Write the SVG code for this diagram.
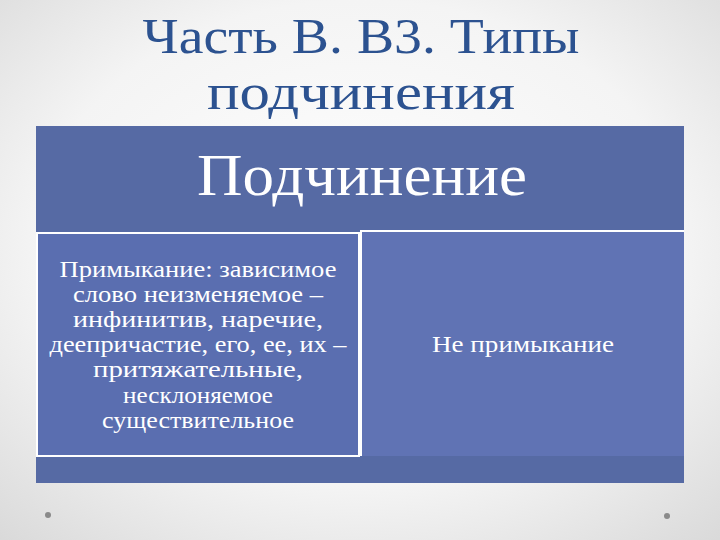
<svg xmlns="http://www.w3.org/2000/svg" width="720" height="540" viewBox="0 0 720 540">
<style>
.title{font-family:"Liberation Serif","DejaVu Serif",serif;font-size:50px;fill:#2c5290;text-anchor:middle}
.head{font-family:"Liberation Serif","DejaVu Serif",serif;font-size:60px;fill:#ffffff;text-anchor:middle}
.body{font-family:"Liberation Serif","DejaVu Serif",serif;font-size:23px;fill:#ffffff;text-anchor:middle}
.box{stroke:#ffffff;stroke-width:2}
</style>
<defs>
<radialGradient id="bg" cx="50%" cy="45%" r="75%">
<stop offset="0" stop-color="#ffffff"/>
<stop offset="0.6" stop-color="#f4f4f4"/>
<stop offset="1" stop-color="#d9d9d9"/>
</radialGradient>
</defs>
<rect x="0" y="0" width="720" height="540" fill="url(#bg)"/>
<g id="title">
<text class="title" x="361" y="53" textLength="437" lengthAdjust="spacingAndGlyphs">Часть В. В3. Типы</text>
<text class="title" x="361" y="109" textLength="308" lengthAdjust="spacingAndGlyphs">подчинения</text>
</g>
<g id="frame">
<rect x="36" y="126" width="648" height="357" fill="#566aa4"/>
</g>
<g id="header">
<text class="head" x="362" y="195" textLength="330" lengthAdjust="spacingAndGlyphs">Подчинение</text>
</g>
<g id="left">
<rect class="box" x="37" y="233" width="322" height="223" fill="#5a6eb0"/>
<text class="body" x="198" y="277" textLength="277" lengthAdjust="spacingAndGlyphs">Примыкание: зависимое</text>
<text class="body" x="198" y="302" textLength="250" lengthAdjust="spacingAndGlyphs">слово неизменяемое –</text>
<text class="body" x="198" y="327" textLength="250" lengthAdjust="spacingAndGlyphs">инфинитив, наречие,</text>
<text class="body" x="198" y="352" textLength="297" lengthAdjust="spacingAndGlyphs">деепричастие, его, ее, их –</text>
<text class="body" x="198" y="377" textLength="210" lengthAdjust="spacingAndGlyphs">притяжательные,</text>
<text class="body" x="198" y="403" textLength="150" lengthAdjust="spacingAndGlyphs">несклоняемое</text>
<text class="body" x="198" y="428" textLength="192" lengthAdjust="spacingAndGlyphs">существительное</text>
</g>
<g id="right">
<rect x="360" y="230" width="324" height="226" fill="#6073b4"/>
<path d="M361 456 V231 H684" fill="none" stroke="#ffffff" stroke-width="2"/>
<text class="body" x="523" y="352" textLength="182" lengthAdjust="spacingAndGlyphs">Не примыкание</text>
</g>
<g id="connectors"></g>
<circle cx="48" cy="515" r="3" fill="#8a8a8a"/>
<circle cx="667" cy="516" r="3" fill="#8a8a8a"/>
</svg>
